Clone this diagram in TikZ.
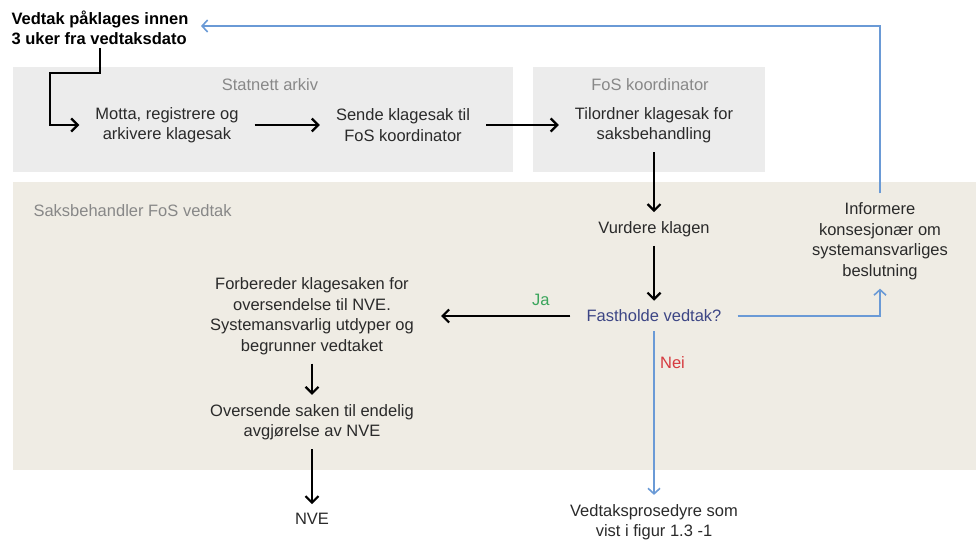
\documentclass[tikz,border=0pt]{standalone}
\usepackage{fontspec}
\setmainfont{Liberation Sans}
\usetikzlibrary{arrows.meta}
\definecolor{archivegray}{HTML}{ECECEC}
\definecolor{casebeige}{HTML}{EFECE4}
\definecolor{lanegray}{HTML}{888888}
\definecolor{steptext}{HTML}{2A2A2A}
\definecolor{flowblue}{HTML}{6A9AD6}
\definecolor{askblue}{HTML}{3D4685}
\definecolor{yesgreen}{HTML}{3BA55C}
\definecolor{nored}{HTML}{D63A3F}

\begin{document}
\begin{tikzpicture}[x=1pt,y=-1pt,
    every node/.style={font=\fontsize{16.5}{20.5}\selectfont,text=steptext,align=center},
    stepnode/.style={inner xsep=16pt,inner ysep=9pt},
    lanetitle/.style={text=lanegray},
    flow/.style={line width=2.2pt,-{Straight Barb[length=6.5pt,width=13pt]}},
    blueflow/.style={draw=flowblue,line width=1.6pt,-{Straight Barb[length=5.5pt,width=12pt]}}]
    \pgfmathsetmacro{\uppertop}{67}
    \pgfmathsetmacro{\upperbottom}{172}
    \useasboundingbox (0,0) rectangle (976,540);
    % lanes
    \fill[archivegray] (13,\uppertop) rectangle (513,\upperbottom);
    \fill[archivegray] (533,\uppertop) rectangle (765,\upperbottom);
    \fill[casebeige] (13,182) rectangle (976,470);
    \node[lanetitle] (arkiv) at (270,85) {Statnett arkiv};
    \node[lanetitle] (koord) at (650,85) {FoS koordinator};
    \node[lanetitle,anchor=west] (saksbeh) at (30,211) {Saksbehandler FoS vedtak};
    % steps
    \node[font=\bfseries\fontsize{16.5}{20}\selectfont,text=black,align=left] (klagefrist) at (100,28) {Vedtak påklages innen\\3 uker fra vedtaksdato};
    \node[stepnode] (motta) at (167,125) {Motta, registrere og\\arkivere klagesak};
    \node[stepnode] (sende) at (403,125) {Sende klagesak til\\FoS koordinator};
    \node[stepnode] (tilordne) at (654,125) {Tilordner klagesak for\\saksbehandling};
    \node[stepnode] (vurdere) at (654,229) {Vurdere klagen};
    \node[stepnode,text=askblue] (fastholde) at (654,316) {Fastholde vedtak?};
    \node[stepnode] (forbered) at (312,316) {Forbereder klagesaken for\\oversendelse til NVE.\\Systemansvarlig utdyper og\\begrunner vedtaket};
    \node[stepnode] (oversend) at (312,422) {Oversende saken til endelig\\avgjørelse av NVE};
    \node[stepnode] (nve) at (312,519) {NVE};
    \node[stepnode] (prosedyre) at (654,522) {Vedtaksprosedyre som\\vist i figur 1.3 -1};
    \node[stepnode] (informere) at (880,241) {Informere\\konsesjonær om\\systemansvarliges\\beslutning};
    % connectors
    \coordinate (knekk) at (50,73);
    \draw[flow] (klagefrist.south) |- (knekk) |- (motta.west);
    \draw[flow] (motta) -- (sende);
    \draw[flow] (sende) -- (tilordne);
    \draw[flow] (tilordne) -- (vurdere);
    \draw[flow] (vurdere) -- (fastholde);
    \draw[flow,shorten >=11pt] (fastholde) -- node[pos=0.21,above=6pt,text=yesgreen] (ja) {Ja} (forbered);
    \draw[flow] (forbered) -- (oversend);
    \draw[flow] (oversend) -- (nve);
    \draw[blueflow] (fastholde) -- node[pos=0.19,right=2pt,text=nored] (nei) {Nei} (prosedyre);
    \draw[blueflow] (fastholde) -| (informere);
    \draw[blueflow,shorten >=9pt] (informere) |- ([yshift=2pt]klagefrist.east);
\end{tikzpicture}
\end{document}
